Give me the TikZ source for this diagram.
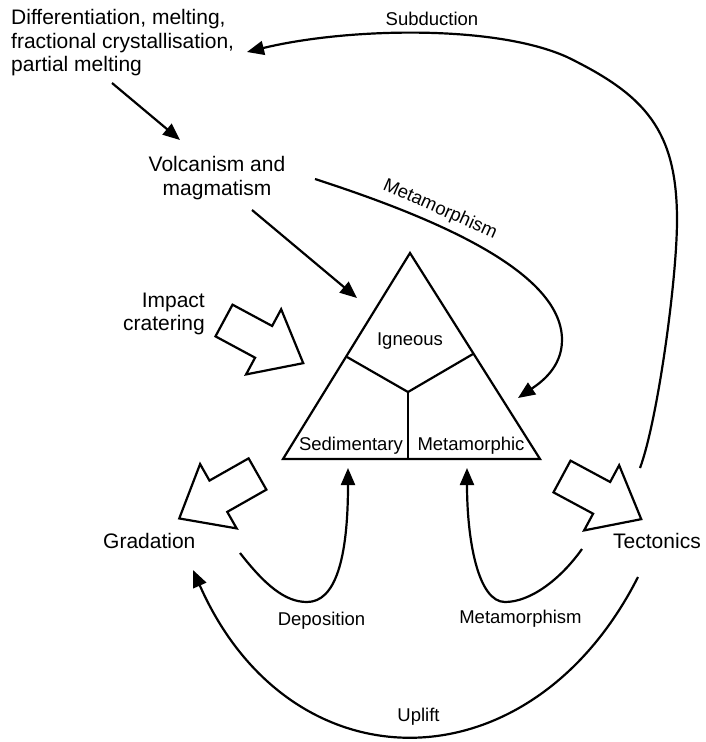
\documentclass[tikz,border=0pt]{standalone}
\usepackage{fontspec}
\setmainfont{Liberation Sans}
\usetikzlibrary{arrows.meta}
\newcommand\bigfont{\fontsize{21}{23.5}\selectfont}
\newcommand\smallfont{\fontsize{18.5}{21}\selectfont}
\tikzset{
  ln/.style={line width=2.2pt, draw=black},
  conn/.style={ln, -{Triangle[length=17pt,width=14pt]}},
  big/.style={inner sep=0pt, font=\bigfont},
  small/.style={inner sep=0pt, font=\smallfont},
  barrow/.pic={\draw[ln, fill=white] (0,-18) -- (45,-18) -- (45,-37) -- (90,0) -- (45,37) -- (45,18) -- (0,18) -- cycle;}
}
\begin{document}
\begin{tikzpicture}[x=1pt,y=-1pt]
\useasboundingbox (0,0) rectangle (705,742);
% triangle
\coordinate (apex) at (410,253);
\coordinate (bl) at (283,459);
\coordinate (br) at (540,459);
\coordinate (ctr) at (408,392);
\coordinate (lj) at (347,357);
\coordinate (rj) at (473,354);
\coordinate (bm) at (408,459);
\draw[ln] (apex) -- (br) -- (bl) -- cycle;
\draw[ln] (lj) -- (ctr) -- (rj);
\draw[ln] (ctr) -- (bm);
\node[small, anchor=base] (ign) at (410,345) {Igneous};
\node[small, anchor=base] (sed) at (351,450) {Sedimentary};
\node[small, anchor=base] (met) at (471,450) {Metamorphic};
% text nodes
\node[big, anchor=north west, align=left] (diff) at (11,9.5) {Differentiation, melting,\\fractional crystallisation,\\partial melting};
\node[big, anchor=north, align=center] (volc) at (217,156.5) {Volcanism and\\magmatism};
\node[big, anchor=north east, align=right] (imp) at (205,292.5) {Impact\\cratering};
\node[big, anchor=base west] (grad) at (103,548) {Gradation};
\node[big, anchor=base west] (tect) at (613,548) {Tectonics};
\node[small, anchor=base] (subl) at (432,25) {Subduction};
\node[small, anchor=base] (depl) at (321.5,625) {Deposition};
\node[small, anchor=base] (metl) at (520.5,623) {Metamorphism};
\node[small, anchor=base] (upl) at (418.5,721) {Uplift};
\node[small, anchor=base, rotate=-24] (mettop) at (438,214) {Metamorphism};
% block arrows
\pic[rotate=-28.3] at (224,320.5) {barrow};
\pic[rotate=209.6] at (257.5,474) {barrow};
\pic[rotate=-28.3] at (562,476.5) {barrow};
% connector end points
\coordinate (d1) at (112,83);
\coordinate (d2) at (180,140);
\coordinate (v1) at (252,210);
\coordinate (v2) at (357,298);
\coordinate (m1) at (315,179);
\coordinate (m2) at (562,340);
\coordinate (m3) at (518,398);
\coordinate (s1) at (640,468);
\coordinate (s2) at (677,220);
\coordinate (s3) at (567,57);
\coordinate (s4) at (247,52);
\coordinate (p1) at (240,553);
\coordinate (p2) at (307,602);
\coordinate (p3) at (348,468);
\coordinate (q1) at (582,549);
\coordinate (q2) at (505,602);
\coordinate (q3) at (467,468);
\coordinate (u1) at (638,577);
\coordinate (u2) at (193,570);
% connectors
\draw[conn] (d1) -- (d2);
\draw[conn] (v1) -- (v2);
\draw[conn] (m1) .. controls (429,216) and (562,270) .. (m2) .. controls (562,368) and (540,383) .. (m3);
\draw[conn] (s1) .. controls (657.5,421) and (677,280) .. (s2) .. controls (677,130) and (645,95) .. (s3) .. controls (494,24) and (345,28) .. (s4);
\draw[conn] (p1) .. controls (265,585) and (285,602) .. (p2) .. controls (335,602) and (348,560) .. (p3);
\draw[conn] (q1) .. controls (560,580) and (530,602) .. (q2) .. controls (478,602) and (467,540) .. (q3);
\draw[conn] (u1) .. controls (530,790) and (290,790) .. (u2);
\end{tikzpicture}
\end{document}
